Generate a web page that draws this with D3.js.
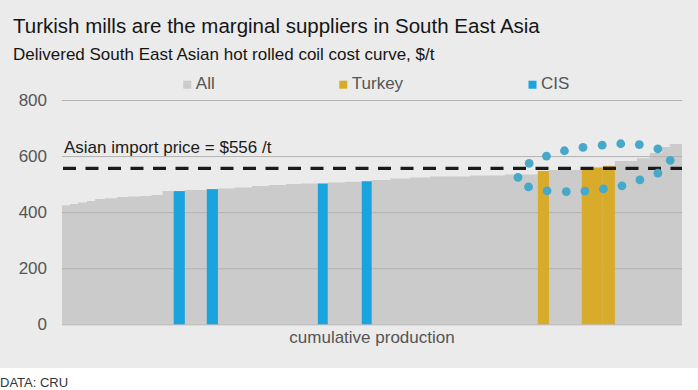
<!DOCTYPE html>
<html><head><meta charset="utf-8">
<script src="https://cdn.jsdelivr.net/npm/d3@7"></script>
<style>
html,body{margin:0;padding:0;background:#fff;}
svg{display:block;font-family:"Liberation Sans",Arial,sans-serif;}
</style></head>
<body>
<svg id="c" width="698" height="390"></svg>
<script>
// cumulative production segments (width, cost $/t, group)
const segWidths = [1.3,1.3,1.45,1.3,1.6,1.95,1.8,1.95,1.8,1.8,
                   1.8,1.8,3.55,1.8,2.75,2.75,2.75,2.75,2.4,2.75,
                   1.6,2.75,2.75,1.6,3.05,3.2,3.2,6.45,5.65,5.3,
                   1.8,5.3,3.4,1.95,3.55,2.1,1.95,1.3,1.95];
const segCosts  = [425,429,434,440,447,450,454,456,458,461,
                   475,475,479,482,484,488,493,497,500,502,
                   502,506,508,510,515,520,524,527,531,534,
                   547,550,559,565,582,592,611,632,643];
const segGroups = ["All","All","All","All","All","All","All","All","All","All",
                   "All","CIS","All","CIS","All","All","All","All","All","All",
                   "CIS","All","All","CIS","All","All","All","All","All","All",
                   "Turkey","All","Turkey","Turkey","All","All","All","All","All"];
// dotted ellipse highlighting the marginal suppliers (production, cost)
const ringX = [73.7,75.5,78.3,81.2,84.2,87.3,90.3,93.3,96.3,98.3,96.3,93.4,90.5,87.5,84.5,81.5,78.4,75.4];
const ringY = [524,574,600,619,631,639,644,641,626,585,539,515,494,483,475,473,476,490];
const yTicks = [0,200,400,600,800];
const importPrice = 556;
const legendKeys = ["All","Turkey","CIS"];

const colors = {All:"#cbcbcb", Turkey:"#d9ab2a", CIS:"#1ba3dd"};

const svg = d3.select("#c");
svg.append("rect").attr("x",0).attr("y",0).attr("width",698).attr("height",368).attr("fill","#ebebeb");

// build cumulative data
let acc = 0;
const segs = segWidths.map((w,i)=>{const s={x0:acc,x1:acc+w,cost:segCosts[i],g:segGroups[i]}; acc+=w; return s;});
const total = acc;

const x = d3.scaleLinear().domain([0,total]).range([62,682]);
const y = d3.scaleLinear().domain([0,800]).range([324.3,100]);

// gray step area (all producers)
const stepPts = segs.map(s=>[s.x0,s.cost]).concat([[total,segs[segs.length-1].cost]]);
svg.append("path")
  .attr("d", d3.area().x(d=>x(d[0])).y0(y(0)).y1(d=>y(d[1])).curve(d3.curveStepAfter)(stepPts))
  .attr("fill",colors.All);

// gridlines
const yAxis = d3.axisLeft(y).tickValues(yTicks).tickSize(-(620)).tickPadding(15);
const ga = svg.append("g").attr("transform","translate(62,0)").call(yAxis);
ga.select(".domain").remove();
ga.selectAll(".tick line").attr("stroke","#b3b3b3").attr("stroke-width",1);
ga.selectAll(".tick text").attr("fill","#555").style("font-size","17px")
  .style("font-family","'Liberation Sans',Arial,sans-serif");

// highlighted bars
svg.append("g").selectAll("rect").data(segs.filter(s=>s.g!=="All")).join("rect")
  .attr("x",d=>x(d.x0)).attr("width",d=>x(d.x1)-x(d.x0))
  .attr("y",d=>y(d.cost)).attr("height",d=>y(0)-y(d.cost))
  .attr("fill",d=>colors[d.g]);

// import price line
svg.append("line").attr("x1",63).attr("x2",682).attr("y1",y(importPrice)).attr("y2",y(importPrice))
  .attr("stroke","#1a1a1a").attr("stroke-width",3.3).attr("stroke-dasharray","13,9.5");
svg.append("text").attr("x",64).attr("y",152.7).attr("fill","#1a1a1a").style("font-size","17px")
  .text("Asian import price = $" + importPrice + " /t");

// dotted ring
svg.append("g").selectAll("circle").data(ringX.map((v,i)=>[v,ringY[i]])).join("circle")
  .attr("cx",d=>x(d[0])).attr("cy",d=>y(d[1])).attr("r",4.4).attr("fill","#47a9ca");

// titles
svg.append("text").attr("x",13).attr("y",33.3).attr("fill","#151515").style("font-size","20.5px")
  .text("Turkish mills are the marginal suppliers in South East Asia");
svg.append("text").attr("x",13).attr("y",60).attr("fill","#151515").style("font-size","17px")
  .text("Delivered South East Asian hot rolled coil cost curve, $/t");

// legend
const legX = [183.3,339.3,528.5];
const lg = svg.append("g").selectAll("g").data(legendKeys).join("g")
  .attr("transform",(d,i)=>`translate(${legX[i]},0)`);
lg.append("rect").attr("x",0).attr("y",80.7).attr("width",8).attr("height",8).attr("fill",d=>colors[d]);
lg.append("text").attr("x",12.5).attr("y",89).attr("fill","#555").style("font-size","17px").text(d=>d);

// x label
svg.append("text").attr("x",372).attr("y",343).attr("text-anchor","middle").attr("fill","#555")
  .style("font-size","17px").text("cumulative production");

// source
svg.append("text").attr("x",0).attr("y",387).attr("fill","#333").style("font-size","13px").text("DATA: CRU");
</script>
</body></html>
